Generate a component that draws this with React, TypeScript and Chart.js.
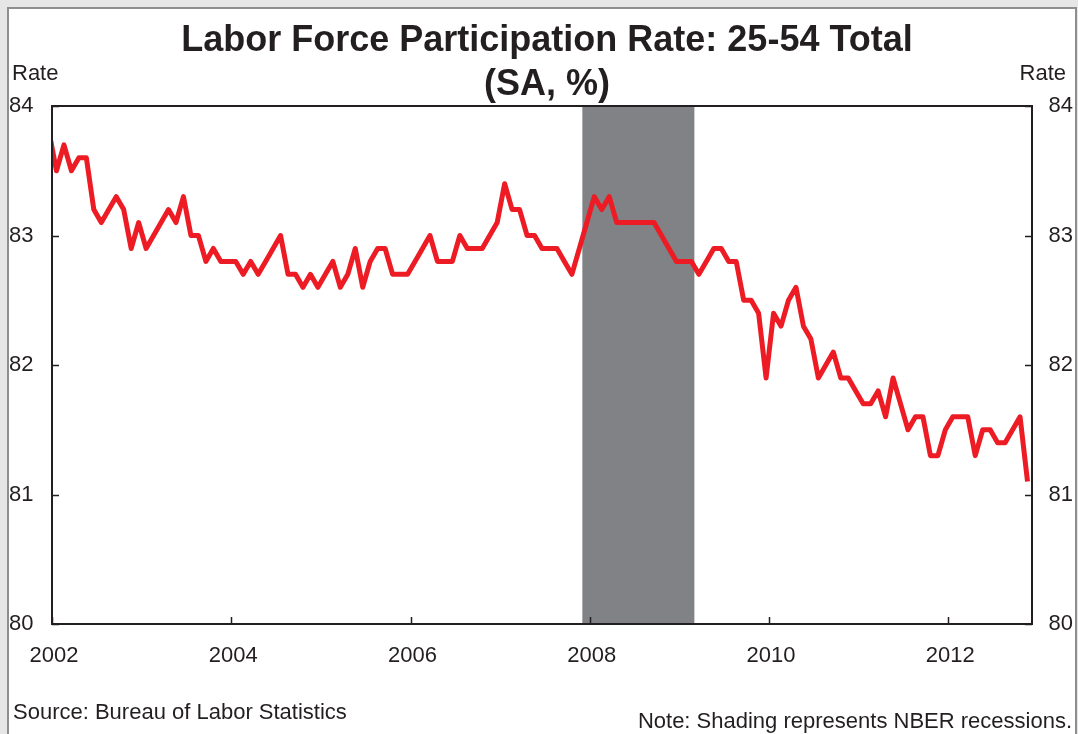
import React, { useEffect, useRef } from "react";
import { Chart, registerables } from "chart.js";

Chart.register(...registerables);

// Monthly values, Jan..Dec of each year (index 0 = Jan 2002)
const rate2002 = [83.8, 83.5, 83.7, 83.5, 83.6, 83.6, 83.2, 83.1, 83.2, 83.3, 83.2, 82.9];
const rate2003 = [83.1, 82.9, 83.0, 83.1, 83.2, 83.1, 83.3, 83.0, 83.0, 82.8, 82.9, 82.8];
const rate2004 = [82.8, 82.8, 82.7, 82.8, 82.7, 82.8, 82.9, 83.0, 82.7, 82.7, 82.6, 82.7];
const rate2005 = [82.6, 82.7, 82.8, 82.6, 82.7, 82.9, 82.6, 82.8, 82.9, 82.9, 82.7, 82.7];
const rate2006 = [82.7, 82.8, 82.9, 83.0, 82.8, 82.8, 82.8, 83.0, 82.9, 82.9, 82.9, 83.0];
const rate2007 = [83.1, 83.4, 83.2, 83.2, 83.0, 83.0, 82.9, 82.9, 82.9, 82.8, 82.7, 82.9];
const rate2008 = [83.1, 83.3, 83.2, 83.3, 83.1, 83.1, 83.1, 83.1, 83.1, 83.1, 83.0, 82.9];
const rate2009 = [82.8, 82.8, 82.8, 82.7, 82.8, 82.9, 82.9, 82.8, 82.8, 82.5, 82.5, 82.4];
const rate2010 = [81.9, 82.4, 82.3, 82.5, 82.6, 82.3, 82.2, 81.9, 82.0, 82.1, 81.9, 81.9];
const rate2011 = [81.8, 81.7, 81.7, 81.8, 81.6, 81.9, 81.7, 81.5, 81.6, 81.6, 81.3, 81.3];
const rate2012 = [81.5, 81.6, 81.6, 81.6, 81.3, 81.5, 81.5, 81.4, 81.4, 81.5, 81.6, 81.1];

const allRates = [
  ...rate2002, ...rate2003, ...rate2004, ...rate2005, ...rate2006, ...rate2007,
  ...rate2008, ...rate2009, ...rate2010, ...rate2011, ...rate2012,
];

// x axis in month index units
const xMin = 0.4;
const xMax = 131.6;
const xTickValues = [0.4, 24.4, 48.4, 72.4, 96.4, 120.4];
const xTickLabels = ["2002", "2004", "2006", "2008", "2010", "2012"];
const yMin = 80;
const yMax = 84;
const yTickValues = [80, 81, 82, 83, 84];

// NBER recession shading, month index units
const recessionStart = 71.4;
const recessionEnd = 86.4;

const titleLines = ["Labor Force Participation Rate: 25-54 Total", "(SA, %)"];
const axisName = "Rate";
const sourceText = "Source: Bureau of Labor Statistics";
const noteText = "Note: Shading represents NBER recessions.";

const FONT = "'Liberation Sans', Arial, Helvetica, sans-serif";
const INK = "#231f20";
const RED = "#ed1c24";
const SHADE = "#808285";

const decorPlugin = {
  id: "decor",
  beforeDatasetsDraw(chart: any) {
    const { ctx, chartArea: a, scales } = chart;
    const x = scales.x;
    const x0 = x.getPixelForValue(recessionStart);
    const x1 = x.getPixelForValue(recessionEnd);
    ctx.save();
    ctx.fillStyle = SHADE;
    ctx.fillRect(x0, a.top, x1 - x0, a.bottom - a.top);
    ctx.restore();
  },
  afterDatasetsDraw(chart: any) {
    const { ctx, chartArea: a, scales } = chart;
    ctx.save();
    ctx.strokeStyle = INK;
    ctx.lineWidth = 2;
    ctx.strokeRect(a.left, a.top, a.right - a.left, a.bottom - a.top);
    const tl = 7;
    ctx.beginPath();
    yTickValues.forEach((v) => {
      const py = Math.round(scales.y.getPixelForValue(v)) + 0.5;
      ctx.moveTo(a.left, py);
      ctx.lineTo(a.left + tl, py);
      ctx.moveTo(a.right, py);
      ctx.lineTo(a.right - tl, py);
    });
    xTickValues.forEach((v) => {
      const px = Math.round(scales.x.getPixelForValue(v)) + 0.5;
      ctx.moveTo(px, a.bottom);
      ctx.lineTo(px, a.bottom - tl);
    });
    ctx.lineWidth = 1.5;
    ctx.stroke();
    ctx.restore();
  },
  afterDraw(chart: any) {
    const { ctx, chartArea: a } = chart;
    const cx = (a.left + a.right) / 2 + 5;
    ctx.save();
    ctx.fillStyle = INK;
    ctx.textBaseline = "alphabetic";
    ctx.font = `bold 36px ${FONT}`;
    ctx.textAlign = "center";
    ctx.fillText(titleLines[0], cx, 51);
    ctx.fillText(titleLines[1], cx, 95);
    ctx.font = `22px ${FONT}`;
    ctx.textAlign = "left";
    ctx.fillText(axisName, 12, 80);
    ctx.fillText(sourceText, 13, 719);
    ctx.textAlign = "right";
    ctx.fillText(axisName, 1066, 80);
    ctx.fillText(noteText, 1072, 728);
    ctx.restore();
  },
};

export default function App() {
  const canvasRef = useRef<HTMLCanvasElement | null>(null);

  useEffect(() => {
    const canvas = canvasRef.current;
    if (!canvas) return;
    const chart = new Chart(canvas, {
      type: "line",
      data: {
        datasets: [
          {
            label: "Rate",
            data: allRates.map((v, i) => ({ x: i, y: v })),
            borderColor: RED,
            backgroundColor: RED,
            borderWidth: 5,
            pointRadius: 0,
            tension: 0,
            borderJoinStyle: "round",
            borderCapStyle: "butt",
          },
        ],
      },
      options: {
        responsive: false,
        animation: false,
        events: [],
        layout: { padding: { left: 9, right: 5, top: 106, bottom: 0 } },
        plugins: {
          legend: { display: false },
          title: { display: false },
          tooltip: { enabled: false },
        },
        scales: {
          x: {
            type: "linear",
            min: xMin,
            max: xMax,
            grid: { display: false, drawTicks: false },
            border: { display: false },
            afterBuildTicks: (scale: any) => {
              scale.ticks = xTickValues.map((v) => ({ value: v }));
            },
            afterFit: (scale: any) => {
              scale.height = 110;
            },
            ticks: {
              autoSkip: false,
              maxRotation: 0,
              padding: 19,
              labelOffset: 2,
              color: INK,
              font: { family: FONT, size: 22 },
              callback: (_v: any, i: number) => xTickLabels[i],
            },
          },
          y: {
            position: "left",
            min: yMin,
            max: yMax,
            grid: { display: false, drawTicks: false },
            border: { display: false },
            afterBuildTicks: (scale: any) => {
              scale.ticks = yTickValues.map((v) => ({ value: v }));
            },
            afterFit: (scale: any) => {
              scale.width = 43;
            },
            ticks: {
              crossAlign: "far",
              color: INK,
              font: { family: FONT, size: 22 },
              callback: (v: any) => String(v),
            },
          },
          y2: {
            position: "right",
            min: yMin,
            max: yMax,
            grid: { display: false, drawTicks: false },
            border: { display: false },
            afterBuildTicks: (scale: any) => {
              scale.ticks = yTickValues.map((v) => ({ value: v }));
            },
            afterFit: (scale: any) => {
              scale.width = 41;
            },
            ticks: {
              crossAlign: "far",
              color: INK,
              font: { family: FONT, size: 22 },
              callback: (v: any) => String(v),
            },
          },
        },
      },
      plugins: [decorPlugin],
    } as any);
    return () => chart.destroy();
  }, []);

  return (
    <div style={{ position: "fixed", left: 0, top: 0, width: 1078, height: 734, background: "#e6e6e6", overflow: "hidden" }}>
      <div
        style={{
          position: "absolute",
          left: 7,
          top: 7,
          width: 1066,
          height: 725,
          background: "#ffffff",
          borderTop: "2px solid #8e8e8e",
          borderLeft: "2px solid #8e8e8e",
          borderRight: "2px solid #8e8e8e",
        }}
      />
      <canvas ref={canvasRef} width={1078} height={734} style={{ position: "absolute", left: 0, top: 0 }} />
    </div>
  );
}
